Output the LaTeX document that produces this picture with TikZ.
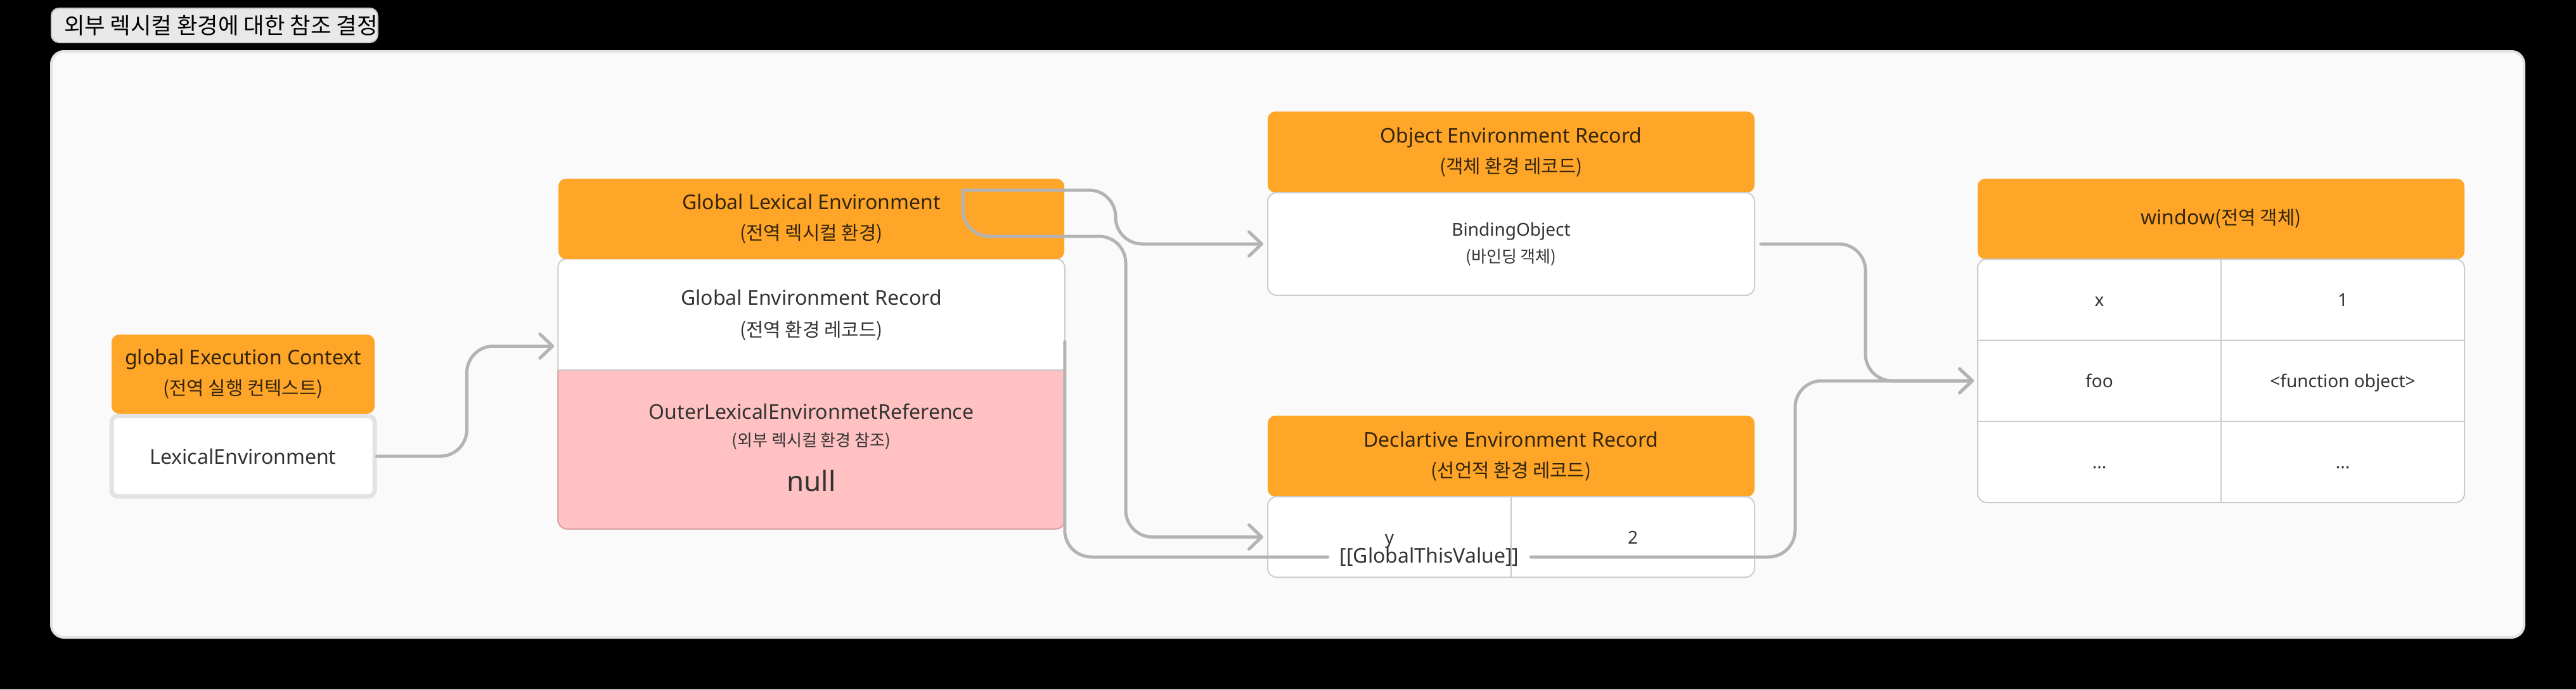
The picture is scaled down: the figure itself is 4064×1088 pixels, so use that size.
\documentclass[tikz,border=0pt]{standalone}
\usepackage{fontspec}
\setmainfont{Noto Sans}
\newfontfamily\kr{Noto Sans CJK KR}[Scale=0.93]
\usetikzlibrary{arrows.meta,backgrounds,calc}

\definecolor{panelfill}{HTML}{FAFAFA}
\definecolor{panelline}{HTML}{E2E2E2}
\definecolor{titlefill}{HTML}{E8E8E8}
\definecolor{titleline}{HTML}{C9C9C9}
\definecolor{headfill}{HTML}{FFA629}
\definecolor{headtext}{HTML}{33250C}
\definecolor{boxline}{HTML}{CCCCCC}
\definecolor{bodytext}{HTML}{333333}
\definecolor{outerfill}{HTML}{FFC1C1}
\definecolor{outerline}{HTML}{D9A2A2}
\definecolor{connline}{HTML}{B3B3B3}
\definecolor{lexline}{HTML}{E3E3E3}

\tikzset{every picture/.style={line width=0.75pt},
  headbox/.style={fill=headfill, rounded corners=6pt, inner sep=0pt, text=headtext, align=center, font=\fontsize{16}{24}\selectfont},
  tablebox/.style={fill=white, draw=boxline, line width=1pt, rounded corners=7pt, inner sep=0pt, minimum width=384pt, text=bodytext, align=center},
  bodytxt/.style={text=bodytext, align=center, inner sep=0pt},
  celltxt/.style={bodytxt, anchor=base, font=\fontsize{14}{20}\selectfont},
  gridline/.style={draw=boxline, line width=1pt},
  conn/.style={draw=connline, line width=2.5pt, rounded corners=21pt, line cap=round, line join=round},
  tip/.style={-{Straight Barb[length=10pt,width=19pt,round]}},
}

\begin{document}
\begin{tikzpicture}[x=0.5pt,y=0.5pt,yscale=-1,xscale=1]
\useasboundingbox (0,0) rectangle (4064,1088);

\begin{scope}[on background layer]
%Shape: Rectangle [page]
\fill[black] (0,0) rectangle (4064,1088);
%Shape: Rectangle [panel]
\draw[fill=panelfill, draw=panelline, line width=2pt, rounded corners=10pt] (81,81) rectangle (3982,1006);
\end{scope}

% Text Node [title]
\node[fill=titlefill, draw=titleline, line width=1pt, rounded corners=6pt, inner xsep=0pt, minimum height=27pt, anchor=west, text=black, font=\kr\fontsize{19}{22}\selectfont] (title) at (80,40) {\hspace{10pt}외부 렉시컬 환경에 대한 참조 결정};

%Shape: global Execution Context
\node[headbox, minimum width=207.5pt, minimum height=62.5pt] (gec) at (383.5,590.5) {global Execution Context\\{\kr(전역 실행 컨텍스트)}};
\node[fill=white, draw=lexline, line width=3.5pt, rounded corners=5pt, minimum width=207.5pt, minimum height=63.5pt, inner sep=0pt, text=bodytext, font=\fontsize{16}{20}\selectfont] (lexenv) at (383.5,720) {LexicalEnvironment};

%Shape: Global Lexical Environment
\node[headbox, minimum width=399pt, minimum height=63.5pt] (gle) at (1280,345.5) {Global Lexical Environment\\{\kr(전역 렉시컬 환경)}};
\node[bodytxt, minimum width=399pt, minimum height=88pt, font=\fontsize{16}{25}\selectfont] (ger) at (1280,497) {Global Environment Record\\{\kr(전역 환경 레코드)}};
\node[minimum width=399pt, minimum height=124.5pt, inner sep=0pt] (outer) at (1280,709.5) {};
\begin{scope}[on background layer]
\draw[fill=white, draw=boxline, line width=1pt, rounded corners=7pt] (ger.north west) rectangle (outer.south east);
\path[fill=outerfill, draw=outerline, line width=1pt] (outer.north) -- (outer.north east) -- (outer.east) [rounded corners=7pt] -- (outer.south east) -- (outer.south west) -- (outer.west) [sharp corners] -- (outer.north west) -- cycle;
\draw[gridline] (outer.north west) -- (outer.north east);
\end{scope}
% Text Node
\node[bodytxt, anchor=base, font=\fontsize{16}{20}\selectfont] (outerref) at (1280,661) {OuterLexicalEnvironmetReference};
% Text Node
\node[bodytxt, anchor=base, font=\kr\fontsize{14}{18}\selectfont] (outerko) at (1280,704) {(외부 렉시컬 환경 참조)};
% Text Node
\node[bodytxt, anchor=base, font=\fontsize{22}{26}\selectfont] (nullval) at (1280,775) {null};

%Shape: Object Environment Record
\node[headbox, minimum width=384pt, minimum height=64pt] (oer) at (2384,240) {Object Environment Record\\{\kr(객체 환경 레코드)}};
\node[tablebox, minimum height=81pt, font=\fontsize{14}{21}\selectfont] (bindobj) at (2384,385) {BindingObject\\{\kr(바인딩 객체)}};

%Shape: Declartive Environment Record
\node[headbox, minimum width=384pt, minimum height=64pt] (der) at (2384,720) {Declartive Environment Record\\{\kr(선언적 환경 레코드)}};
\node[tablebox, minimum height=63.5pt] (decltab) at (2384,847.5) {};
\node[celltxt] (ykey) at (2192,858) {y};
\node[celltxt] (yval) at (2576,858) {2};

%Shape: window
\node[headbox, minimum width=384pt, minimum height=63.5pt] (win) at (3504,345.5) {window{\kr(전역 객체)}};
\node[tablebox, minimum height=192pt] (wintab) at (3504,601) {};
\draw[gridline] (wintab.north) -- (wintab.south);
\foreach \f in {1/3,2/3}
  \draw[gridline] ($(wintab.north west)!\f!(wintab.south west)$) -- ($(wintab.north east)!\f!(wintab.south east)$);
\node[celltxt] (xkey) at (3312,483) {x};
\node[celltxt] (xval) at (3696,483) {1};
\node[celltxt] (fookey) at (3312,611) {foo};
\node[celltxt] (fooval) at (3696,611) {<function object>};
\node[celltxt] (morekey) at (3312,739) {...};
\node[celltxt] (moreval) at (3696,739) {...};

%Straight Lines [lexenv -> outer]
\coordinate (outin) at ([xshift=-3pt,yshift=-19pt]outer.north west);
\draw[conn, tip] (lexenv.east) -- ++(71pt,0) |- (outin);
%Straight Lines [gle -> bindobj, decltab]
\coordinate (gleport) at (1519,300);
\draw[conn, tip] (gleport) -- (1760,300) |- ([xshift=-3pt]bindobj.west);
\draw[conn, tip] (gleport) |- (1776,373) |- ([xshift=-3pt]decltab.west);
%Straight Lines [bindobj -> window]
\draw[conn, tip] ([xshift=4.5pt]bindobj.east) -- (2943,385) |- ([xshift=-2.5pt]wintab.west);
%Straight Lines [outer -> window]
\node[bodytxt, inner xsep=9pt, font=\fontsize{16}{20}\selectfont] (gtv) at (2255,879) {[[GlobalThisValue]]};
\draw[conn] ([yshift=-22.5pt]outer.north east) |- (gtv.west);
\draw[conn, tip] (gtv.east) -- (2832,879) |- ([xshift=-2.5pt]wintab.west);
\draw[gridline] (decltab.north) -- (decltab.south);

\end{tikzpicture}
\end{document}
